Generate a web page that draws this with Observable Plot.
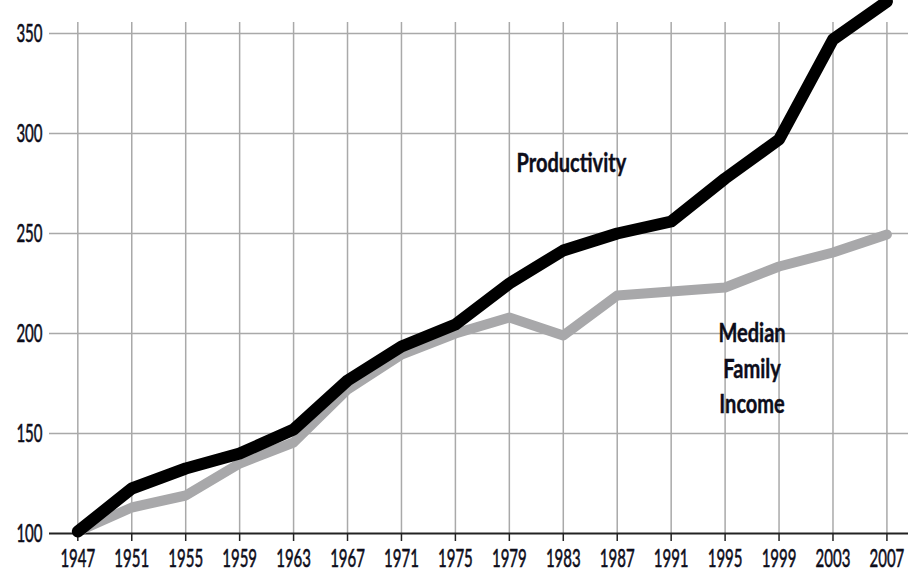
<!DOCTYPE html>
<html>
<head>
<meta charset="utf-8">
<script src="https://cdn.jsdelivr.net/npm/d3@7"></script>
<script src="https://cdn.jsdelivr.net/npm/@observablehq/plot@0.6"></script>
<style>
  html, body { margin: 0; padding: 0; background: #fff; }
  svg { display: block; }
</style>
</head>
<body>
<div id="chart"></div>
<script>
const years = [1947, 1951, 1955, 1959, 1963, 1967, 1971, 1975, 1979, 1983, 1987, 1991, 1995, 1999, 2003, 2007];
const productivity = [101, 122.5, 132.5, 140, 152, 176.5, 193.5, 204.5, 225, 241.5, 250, 256, 277.5, 297, 347, 366];
const medianFamilyIncome = [101, 113, 119, 135, 145.5, 172, 189.5, 200, 208, 199, 219, 221, 223, 233.5, 240.5, 249.5];
const yTicks = [100, 150, 200, 250, 300, 350];
const labels = [
  {year: 1983.6, value: 286.5, text: "Productivity"},
  {year: 1997, value: 183.5, text: "Median\nFamily\nIncome"}
];

const prodData = years.map((y, i) => ({year: y, value: productivity[i]}));
const incData = years.map((y, i) => ({year: y, value: medianFamilyIncome[i]}));

const font = "Lato, 'Open Sans', sans-serif";

const chart = Plot.plot({
  width: 908,
  height: 571,
  marginLeft: 49,
  marginRight: 0,
  marginTop: 22,
  marginBottom: 38,
  style: {fontFamily: font, fontSize: "25px", background: "#fff", color: "#0d0d1a"},
  x: {domain: [1944.9, 2008.6], ticks: years, tickFormat: d => String(d)},
  y: {domain: [100, 355.5], ticks: yTicks},
  marks: [
    Plot.ruleX(years, {x: d => d, stroke: "#a9a9a9", strokeWidth: 1.5}),
    Plot.ruleY(yTicks.filter(d => d > 100), {y: d => d, stroke: "#a9a9a9", strokeWidth: 1.5}),
    Plot.ruleY([100], {stroke: "#222", strokeWidth: 2}),
    Plot.axisX({ticks: years, tickFormat: d => String(d), tickSize: 8, tickPadding: 8, fontSize: 25, stroke: "#222", strokeWidth: 1.5, label: null}),
    Plot.axisY({ticks: yTicks, tickSize: 0, tickPadding: 7, fontSize: 25, label: null}),
    Plot.line(incData, {x: "year", y: "value", stroke: "#a8a8aa", strokeWidth: 10, strokeLinejoin: "round", strokeLinecap: "round"}),
    Plot.line(prodData, {x: "year", y: "value", stroke: "#000", strokeWidth: 12, strokeLinejoin: "round", strokeLinecap: "round"}),
    Plot.text(labels, {x: "year", y: "value", text: "text", fontSize: 26, fontWeight: "bold", lineHeight: 1.36, fill: "#0d0d1a", textAnchor: "middle"})
  ]
});

// Condense glyphs horizontally (the original uses a narrow typeface)
function condense(selector, k, weight) {
  chart.querySelectorAll(selector).forEach(t => {
    const X = parseFloat(t.getAttribute("x")) || 0;
    const tr = t.getAttribute("transform") || "";
    t.setAttribute("transform", `${tr} translate(${X},0) scale(${k},1) translate(${-X},0)`);
    if (weight) {
      t.style.stroke = "#0d0d1a";
      t.style.strokeWidth = weight;
      t.style.paintOrder = "stroke";
    }
  });
}
condense('g[aria-label="x-axis tick label"] text', 0.6, 0.6);
condense('g[aria-label="y-axis tick label"] text', 0.6, 0.6);
condense('g[aria-label="text"] text', 0.77, 0.4);

document.getElementById("chart").appendChild(chart);
</script>
</body>
</html>
